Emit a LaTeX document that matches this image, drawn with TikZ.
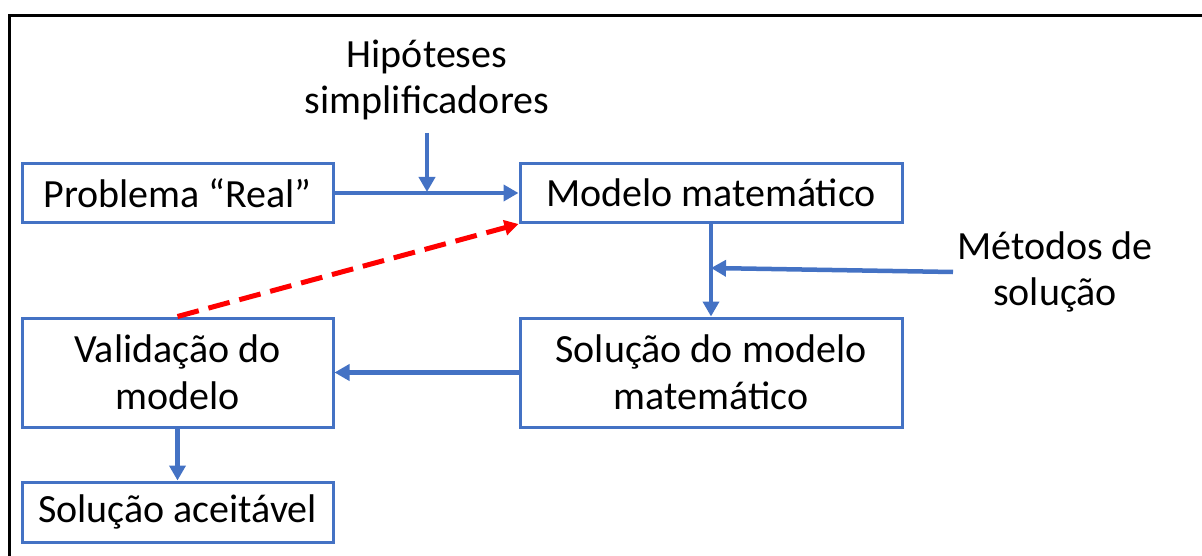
\documentclass[tikz,border=0pt]{standalone}
\usepackage{fontspec}
\setmainfont{Carlito}
\usetikzlibrary{arrows.meta}
\definecolor{boxblue}{HTML}{4472C4}
\begin{document}
\begin{tikzpicture}[x=1pt,y=-1pt,
  box/.style={draw=boxblue,line width=3pt,minimum height=59pt,inner sep=0pt,font=\fontsize{40}{47}\selectfont,align=center},
  tall/.style={box,minimum height=109pt},
  lbl/.style={font=\fontsize{40}{46}\selectfont,align=center,inner sep=0pt},
  conn/.style={draw=boxblue,line width=4.5pt,-{Triangle[length=15pt,width=16pt]}},
  fb/.style={draw=red,line width=5pt,dash pattern=on 22pt off 10pt,-{Triangle[length=14pt,width=15pt]}}]
\useasboundingbox (0,0) rectangle (1202,556);
\draw[line width=3pt] (9,600) -- (9,16) -- (1250,16);
\node[box,minimum width=311pt] (prob) at (177.5,193.5) {Problema “Real”};
\node[box,minimum width=382pt] (mod) at (711,193) {Modelo matemático};
\node[tall,minimum width=311pt] (val) at (177.5,372.5) {Validação do\\modelo};
\node[tall,minimum width=382pt] (sol) at (711,372.5) {Solução do modelo\\matemático};
\node[box,minimum width=311pt,minimum height=60pt] (acc) at (177.5,512) {Solução aceitável};
\node[lbl] (hip) at (427,80) {Hipóteses\\simplificadores};
\node[lbl] (met) at (1055,272) {Métodos de\\solução};
\coordinate (hipend) at (427,133);
\coordinate (hipjoin) at (427,192);
\coordinate (metstart) at (953,272);
\coordinate (metjoin) at (711,268);
\draw[conn] (prob.east |- mod) -- (mod.west);
\draw[conn] (hipend) -- (hipjoin);
\draw[conn] (mod.south) -- (sol.north);
\draw[conn] (metstart) -- (metjoin);
\draw[conn] (sol.west) -- (val.east);
\draw[conn] (val.south) -- (acc.north);
\draw[fb] (val.north) -- (mod.south west);
\end{tikzpicture}
\end{document}
